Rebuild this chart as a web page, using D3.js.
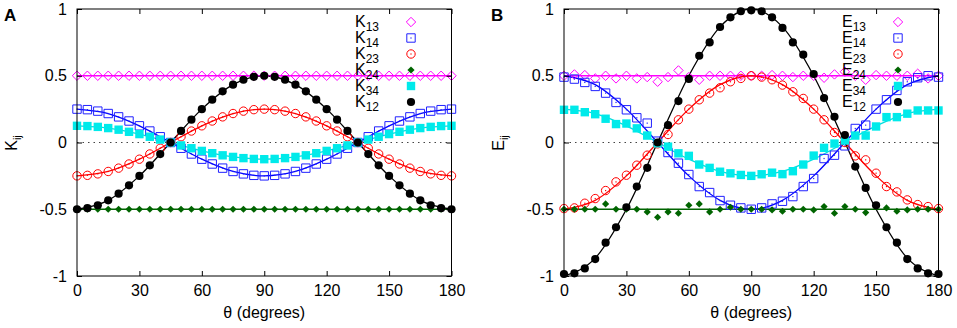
<!DOCTYPE html>
<html>
<head>
<meta charset="utf-8">
<script src="https://cdn.jsdelivr.net/npm/d3@7"></script>
<style>
  body { margin: 0; background: #fff; }
  svg { display: block; font-family: "Liberation Sans", Arial, sans-serif; }
</style>
</head>
<body>
<svg id="chart" width="957" height="328"></svg>
<script>
// angles of the measured points and of the fitted curves
const theta = [0,5,10,15,20,25,30,35,40,45,50,55,60,65,70,75,80,85,90,95,100,105,110,115,120,125,130,135,140,145,150,155,160,165,170,175,180];
const fitTheta = [0,15,30,45,60,75,90,105,120,135,150,165,180];

const xTicks = [0,30,60,90,120,150,180];
const yTicks = [-1,-0.5,0,0.5,1];

// panel A : K_ij
const k13 = [0.5,0.5,0.5,0.5,0.5,0.5,0.5,0.5,0.5,0.5,0.5,0.5,0.5,0.5,0.5,0.5,0.5,0.5,0.5,0.5,0.5,0.5,0.5,0.5,0.5,0.5,0.5,0.5,0.5,0.5,0.5,0.5,0.5,0.5,0.5,0.5,0.5];
const k14 = [0.25,0.246,0.235,0.217,0.192,0.161,0.125,0.086,0.043,0,-0.043,-0.086,-0.125,-0.161,-0.192,-0.217,-0.235,-0.246,-0.25,-0.246,-0.235,-0.217,-0.192,-0.161,-0.125,-0.086,-0.043,0,0.043,0.086,0.125,0.161,0.192,0.217,0.235,0.246,0.25];
const k23 = [-0.25,-0.246,-0.235,-0.217,-0.192,-0.161,-0.125,-0.086,-0.043,0,0.043,0.086,0.125,0.161,0.192,0.217,0.235,0.246,0.25,0.246,0.235,0.217,0.192,0.161,0.125,0.086,0.043,0,-0.043,-0.086,-0.125,-0.161,-0.192,-0.217,-0.235,-0.246,-0.25];
const k24 = [-0.5,-0.5,-0.5,-0.5,-0.5,-0.5,-0.5,-0.5,-0.5,-0.5,-0.5,-0.5,-0.5,-0.5,-0.5,-0.5,-0.5,-0.5,-0.5,-0.5,-0.5,-0.5,-0.5,-0.5,-0.5,-0.5,-0.5,-0.5,-0.5,-0.5,-0.5,-0.5,-0.5,-0.5,-0.5,-0.5,-0.5];
const k34 = [0.125,0.123,0.117,0.108,0.096,0.08,0.063,0.043,0.022,0,-0.022,-0.043,-0.063,-0.08,-0.096,-0.108,-0.117,-0.123,-0.125,-0.123,-0.117,-0.108,-0.096,-0.08,-0.063,-0.043,-0.022,0,0.022,0.043,0.063,0.08,0.096,0.108,0.117,0.123,0.125];
const k12 = [-0.5,-0.492,-0.47,-0.433,-0.383,-0.321,-0.25,-0.171,-0.087,0,0.087,0.171,0.25,0.321,0.383,0.433,0.47,0.492,0.5,0.492,0.47,0.433,0.383,0.321,0.25,0.171,0.087,0,-0.087,-0.171,-0.25,-0.321,-0.383,-0.433,-0.47,-0.492,-0.5];

const kFit13 = [0.5,0.5,0.5,0.5,0.5,0.5,0.5,0.5,0.5,0.5,0.5,0.5,0.5];
const kFit14 = [0.25,0.217,0.125,0,-0.125,-0.217,-0.25,-0.217,-0.125,0,0.125,0.217,0.25];
const kFit23 = [-0.25,-0.217,-0.125,0,0.125,0.217,0.25,0.217,0.125,0,-0.125,-0.217,-0.25];
const kFit24 = [-0.5,-0.5,-0.5,-0.5,-0.5,-0.5,-0.5,-0.5,-0.5,-0.5,-0.5,-0.5,-0.5];
const kFit34 = [0.125,0.108,0.063,0,-0.063,-0.108,-0.125,-0.108,-0.063,0,0.063,0.108,0.125];
const kFit12 = [-0.5,-0.433,-0.25,0,0.25,0.433,0.5,0.433,0.25,0,-0.25,-0.433,-0.5];

// panel B : E_ij
const e13 = [0.5,0.51,0.505,0.48,0.5,0.48,0.5,0.48,0.49,0.455,0.49,0.54,0.49,0.47,0.5,0.5,0.5,0.5,0.5,0.5,0.505,0.5,0.49,0.5,0.5,0.485,0.51,0.53,0.5,0.47,0.505,0.5,0.5,0.5,0.515,0.48,0.5];
const e14 = [0.49,0.475,0.45,0.42,0.37,0.3,0.245,0.185,0.145,0.01,-0.075,-0.155,-0.24,-0.33,-0.375,-0.435,-0.47,-0.49,-0.5,-0.49,-0.46,-0.44,-0.405,-0.33,-0.27,-0.12,-0.095,-0.025,0.105,0.13,0.25,0.32,0.39,0.455,0.485,0.5,0.49];
const e23 = [-0.495,-0.49,-0.455,-0.42,-0.36,-0.295,-0.245,-0.17,-0.095,-0.01,0.06,0.17,0.25,0.32,0.37,0.41,0.455,0.48,0.5,0.49,0.47,0.43,0.38,0.33,0.25,0.17,0.075,0,-0.1,-0.13,-0.23,-0.33,-0.37,-0.43,-0.465,-0.48,-0.495];
const e24 = [-0.5,-0.5,-0.5,-0.5,-0.46,-0.5,-0.5,-0.5,-0.52,-0.56,-0.52,-0.53,-0.47,-0.46,-0.52,-0.5,-0.485,-0.5,-0.5,-0.5,-0.505,-0.515,-0.5,-0.5,-0.505,-0.48,-0.53,-0.48,-0.5,-0.525,-0.48,-0.49,-0.515,-0.505,-0.5,-0.5,-0.5];
const e34 = [0.245,0.245,0.227,0.212,0.178,0.138,0.142,0.106,0.052,-0.006,-0.031,-0.081,-0.1,-0.165,-0.19,-0.219,-0.231,-0.243,-0.25,-0.238,-0.226,-0.237,-0.215,-0.165,-0.098,-0.04,-0.008,0.015,0.052,0.052,0.12,0.19,0.19,0.216,0.24,0.24,0.24];
const e12 = [-0.985,-0.98,-0.943,-0.873,-0.75,-0.635,-0.485,-0.33,-0.19,0,0.13,0.31,0.476,0.65,0.75,0.865,0.938,0.983,0.99,0.983,0.938,0.858,0.75,0.658,0.513,0.333,0.193,0.056,-0.18,-0.34,-0.47,-0.635,-0.75,-0.873,-0.943,-0.98,-0.985];

const eFit13 = [0.5,0.5,0.5,0.5,0.5,0.5,0.5,0.5,0.5,0.5,0.5,0.5,0.5];
const eFit14 = [0.5,0.433,0.25,0,-0.25,-0.433,-0.5,-0.433,-0.25,0,0.25,0.433,0.5];
const eFit23 = [-0.5,-0.433,-0.25,0,0.25,0.433,0.5,0.433,0.25,0,-0.25,-0.433,-0.5];
const eFit24 = [-0.5,-0.5,-0.5,-0.5,-0.5,-0.5,-0.5,-0.5,-0.5,-0.5,-0.5,-0.5,-0.5];
const eFit34 = [0.25,0.217,0.125,0,-0.125,-0.217,-0.25,-0.217,-0.125,0,0.125,0.217,0.25];
const eFit12 = [-1,-0.866,-0.5,0,0.5,0.866,1,0.866,0.5,0,-0.5,-0.866,-1];

const subs = ["13","14","23","24","34","12"];
const colors = ["#ff00ff","#2020ff","#ff0000","#006400","#00eaea","#000000"];
const lineColors = ["#ff00ff","#0000ff","#ff0000","#006400","#00dede","#000000"];
const shapes = ["diamond","square","circle","fdiamond","fsquare","fcircle"];

const svg = d3.select("#chart");
const plotTop = 9, plotBottom = 276;

function symbolPath(shape) {
    if (shape == "diamond") return "M0,-4.7L4.7,0L0,4.7L-4.7,0Z";
    if (shape == "fdiamond") return "M0,-3.6L3.6,0L0,3.6L-3.6,0Z";
    if (shape == "square") return "M-4.2,-4.2h8.4v8.4h-8.4Z";
    if (shape == "fsquare") return "M-4.2,-4.2h8.4v8.4h-8.4Z";
    return null;
}

function drawMarker(g, shape, color, cx, cy) {
    let filled = shape.charAt(0) == "f";
    let el;
    if (shape == "circle" || shape == "fcircle") {
        el = g.append("circle").attr("cx", cx).attr("cy", cy).attr("r", filled ? 4.1 : 4.2);
    } else {
        el = g.append("path").attr("d", symbolPath(shape))
            .attr("transform", "translate(" + cx + "," + cy + ")");
    }
    if (filled) {
        el.attr("fill", color).attr("stroke", "none");
    } else {
        el.attr("fill", "none").attr("stroke", color).attr("stroke-width", 1);
        if (shape != "diamond") {
            g.append("rect").attr("x", cx - 0.6).attr("y", cy - 0.6)
                .attr("width", 1.2).attr("height", 1.2).attr("fill", color);
        }
    }
}

function drawPanel(left, right, letter, sym, values, fits) {
    let x = d3.scaleLinear().domain([0, 180]).range([left, right]);
    let y = d3.scaleLinear().domain([-1, 1]).range([plotBottom, plotTop]);
    let g = svg.append("g");

    // dotted zero line
    g.append("line")
        .attr("x1", x(0)).attr("x2", x(180))
        .attr("y1", y(0)).attr("y2", y(0))
        .attr("stroke", "#444").attr("stroke-width", 1)
        .attr("stroke-dasharray", "1.5,4");

    // fitted curves
    let line = d3.line()
        .x(function (d, i) { return x(fitTheta[i]); })
        .y(function (d) { return y(d); })
        .curve(d3.curveMonotoneX);
    fits.forEach(function (f, k) {
        g.append("path").attr("d", line(f))
            .attr("fill", "none")
            .attr("stroke", lineColors[k])
            .attr("stroke-width", 1.3);
    });

    // measured points
    values.forEach(function (vals, k) {
        let pg = g.append("g");
        vals.forEach(function (v, i) {
            drawMarker(pg, shapes[k], colors[k], x(theta[i]), y(v));
        });
    });

    // border
    g.append("rect")
        .attr("x", left).attr("y", plotTop)
        .attr("width", right - left).attr("height", plotBottom - plotTop)
        .attr("fill", "none").attr("stroke", "#000").attr("stroke-width", 1);

    // axes with inward ticks on all four sides
    let fmt = function (d) { return String(d); };
    g.append("g").attr("transform", "translate(0," + plotBottom + ")")
        .call(d3.axisBottom(x).tickValues(xTicks).tickFormat(fmt).tickSize(-5).tickPadding(9));
    g.append("g").attr("transform", "translate(" + left + ",0)")
        .call(d3.axisLeft(y).tickValues(yTicks).tickFormat(fmt).tickSize(-5).tickPadding(10));
    g.append("g").attr("transform", "translate(0," + plotTop + ")")
        .call(d3.axisTop(x).tickValues(xTicks).tickFormat("").tickSize(-5));
    g.append("g").attr("transform", "translate(" + right + ",0)")
        .call(d3.axisRight(y).tickValues(yTicks).tickFormat("").tickSize(-5));
    g.selectAll(".domain").remove();
    g.selectAll(".tick line").attr("stroke", "#000");
    g.selectAll(".tick text")
        .attr("font-family", "'Liberation Sans', Arial, sans-serif")
        .attr("font-size", 16).attr("fill", "#000");

    // axis titles
    g.append("text")
        .attr("x", (left + right) / 2).attr("y", 318)
        .attr("text-anchor", "middle").attr("font-size", 16)
        .text("\u03b8 (degrees)");

    let yl = g.append("text")
        .attr("transform", "translate(" + (left - 60) + ",143) rotate(-90)")
        .attr("text-anchor", "middle").attr("font-size", 16);
    yl.append("tspan").text(sym);
    yl.append("tspan").attr("dy", 4).attr("font-size", 11).text("ij");

    // panel letter
    g.append("text")
        .attr("x", left - 73).attr("y", 21)
        .attr("font-size", 17).attr("font-weight", "bold")
        .text(letter);

    // legend
    subs.forEach(function (s, k) {
        let cy = 22 + 16 * k;
        let t = g.append("text")
            .attr("x", left + 278).attr("y", cy + 4.5)
            .attr("font-size", 16);
        t.append("tspan").text(sym);
        t.append("tspan").attr("dy", 4.5).attr("font-size", 12).text(s);
        drawMarker(g, shapes[k], colors[k], left + 334, cy);
    });
}

drawPanel(77, 451.5, "A", "K",
    [k13, k14, k23, k24, k34, k12],
    [kFit13, kFit14, kFit23, kFit24, kFit34, kFit12]);
drawPanel(564, 938.5, "B", "E",
    [e13, e14, e23, e24, e34, e12],
    [eFit13, eFit14, eFit23, eFit24, eFit34, eFit12]);
</script>
</body>
</html>
